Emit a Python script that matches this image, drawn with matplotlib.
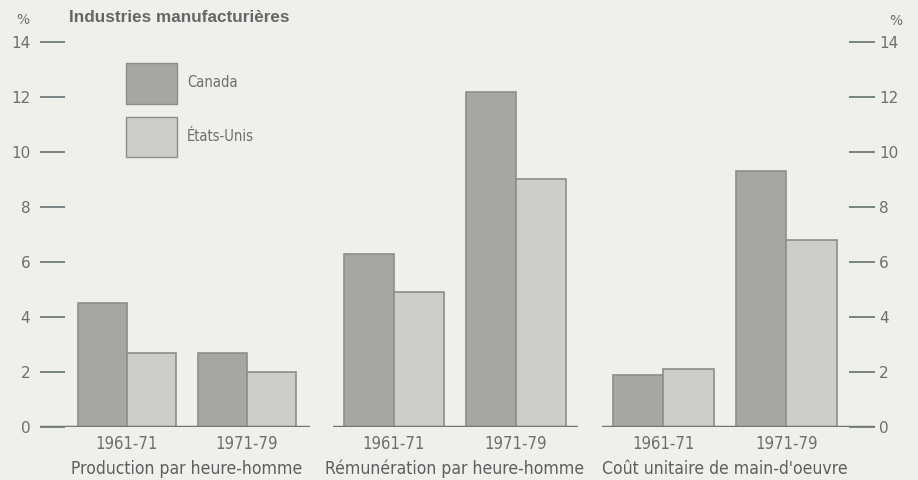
import matplotlib.pyplot as plt
import matplotlib.patches as mpatches
import numpy as np

periods = ["1961-71", "1971-79"]
measures = ["Production par heure-homme", "Rémunération par heure-homme",
            "Coût unitaire de main-d'oeuvre"]
canada = [[4.5, 2.7], [6.3, 12.2], [1.9, 9.3]]
etats_unis = [[2.7, 2.0], [4.9, 9.0], [2.1, 6.8]]
yticks = [0, 2, 4, 6, 8, 10, 12, 14]

W, H = 918, 480
bg = "#efefeb"
col_ca = "#a6a7a4"
col_us = "#cdcecb"
edge = "#8c8e8b"
tick_col = "#6f7a78"
text_col = "#6e6e6e"

fig = plt.figure(figsize=(W / 100, H / 100), dpi=100, facecolor=bg)

# (left px, right px, xlim) for each panel
panels = [(40, 310, (-0.725, 1.525)),
          (333, 578, (-0.5, 1.51)),
          (602, 875, (-0.5, 1.72))]
bw = 0.41
x = np.arange(len(periods))
axes = []
for i, (l, r, xl) in enumerate(panels):
    ax = fig.add_axes([l / W, 53 / H, (r - l) / W, 385 / H])
    ax.set_facecolor("none")
    ax.bar(x - bw / 2, canada[i], bw, color=col_ca, edgecolor=edge, linewidth=1.2)
    ax.bar(x + bw / 2, etats_unis[i], bw, color=col_us, edgecolor=edge, linewidth=1.2)
    ax.axhline(0, color=tick_col, lw=2.5, zorder=5)
    ax.set_xlim(*xl)
    ax.set_ylim(0, 14)
    for s in ax.spines.values():
        s.set_visible(False)
    ax.set_xticks(x, periods, fontsize=12, color=text_col, fontstretch="condensed")
    ax.tick_params(axis="x", length=0, pad=6)
    ax.set_xlabel(measures[i], fontsize=12.6, color="#5e5e5e", fontstretch="condensed")
    ax.xaxis.set_label_coords(((x[0] - bw + x[1] + bw) / 2 - xl[0]) / (xl[1] - xl[0]), -0.085)
    axes.append(ax)

# left and right scales
a1 = axes[0]
a1.set_yticks(yticks)
a1.tick_params(axis="y", direction="in", length=18, width=1.3, color=tick_col,
               labelcolor=text_col, labelsize=11, pad=7)
a3 = axes[2]
a3.yaxis.tick_right()
a3.set_yticks(yticks)
a3.tick_params(axis="y", direction="in", length=19, width=1.3, color=tick_col,
               labelcolor=text_col, labelsize=11, pad=3)
axes[1].set_yticks([])
for t in a1.get_yticklines() + a3.get_yticklines():
    t.set_clip_on(False)

fig.text(16 / W, 1 - 20 / H, "%", fontsize=10, color=text_col, va="center")
fig.text(889 / W, 1 - 21 / H, "%", fontsize=10, color=text_col, va="center")
fig.text(69 / W, 1 - 18 / H, "Industries manufacturières", fontsize=12.3,
         fontweight="bold", color="#666666", va="center", family="Liberation Sans")

handles = [mpatches.Patch(facecolor=col_ca, edgecolor=edge, label="Canada"),
           mpatches.Patch(facecolor=col_us, edgecolor=edge, label="États-Unis")]
fig.legend(handles=handles, loc="upper left", bbox_to_anchor=(126 / W, 1 - 63 / H),
           frameon=False, prop={"size": 10.5, "stretch": "condensed"}, labelcolor=text_col,
           handlelength=3.5, handleheight=3.9, handletextpad=0.7, labelspacing=0.9,
           borderpad=0, borderaxespad=0)

fig.savefig("out.png", dpi=100, facecolor=bg)
